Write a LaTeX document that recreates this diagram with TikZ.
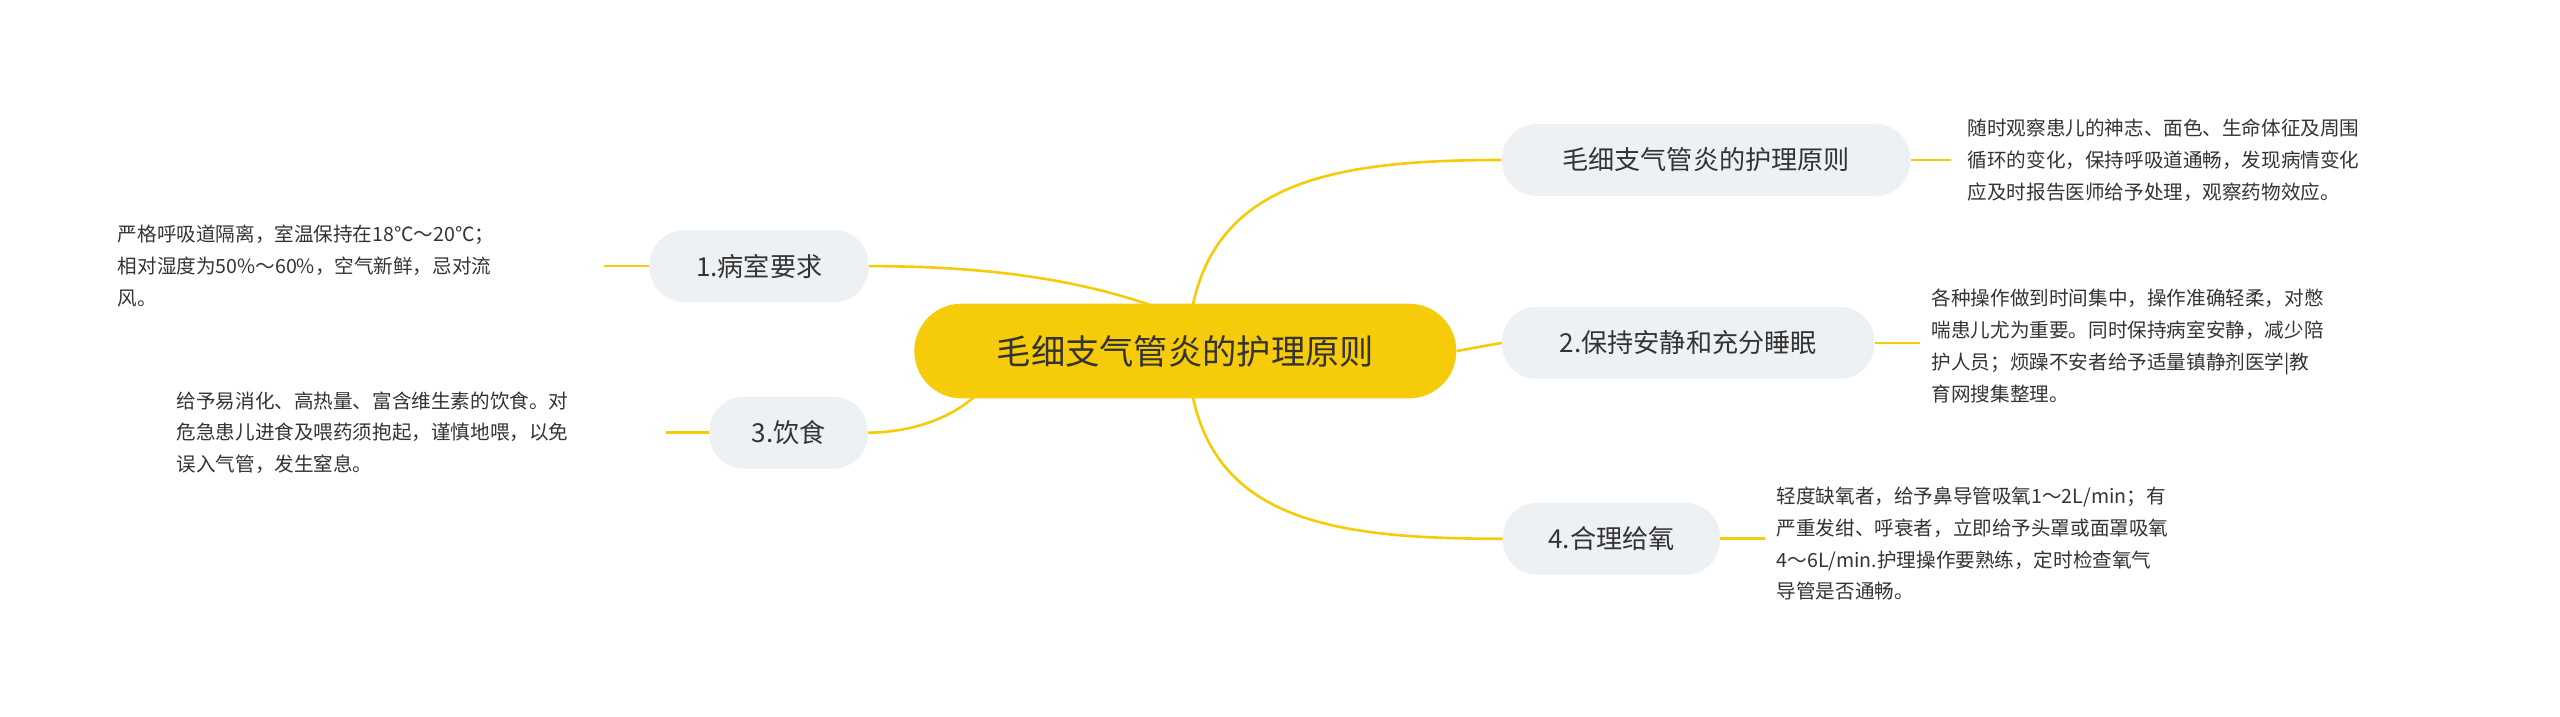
\documentclass[tikz,border=0pt]{standalone}
\usepackage{fontspec}
\setmainfont{Noto Sans CJK SC}
\usetikzlibrary{positioning}
\definecolor{cy}{HTML}{F5CB0A}
\definecolor{cg}{HTML}{EEF1F4}
\definecolor{ct}{HTML}{333333}
\tikzset{
  br/.style={fill=cg,rounded corners=21pt,minimum height=44pt,font=\fontsize{16}{18}\selectfont,text=ct,inner xsep=20pt},
  lf/.style={font=\fontsize{12}{19.5}\selectfont,text=ct,align=left,inner sep=0pt},
  ln/.style={draw=cy,line width=1.6pt}
}
\begin{document}
\begin{tikzpicture}[x=1pt,y=-1pt]
\useasboundingbox (0,0) rectangle (1568,439);
\node[fill=cy,rounded corners=29pt,minimum width=332pt,minimum height=58pt,font=\fontsize{21}{24}\selectfont,text=ct] (c) at (726,215) {毛细支气管炎的护理原则};
\node[br,minimum width=250pt] (r1) at (1045,98) {毛细支气管炎的护理原则};
\node[br,minimum width=228pt] (r2) at (1034,210) {2.保持安静和充分睡眠};
\node[br,minimum width=133pt] (r4) at (987,330) {4.合理给氧};
\node[br,minimum width=134pt] (l1) at (465,163) {1.病室要求};
\node[br,minimum width=97pt] (l3) at (483,265) {3.饮食};
\node[lf,anchor=west] (t1) at (1205,98) {随时观察患儿的神志、面色、生命体征及周围\\循环的变化，保持呼吸道通畅，发现病情变化\\应及时报告医师给予处理，观察药物效应。};
\node[lf,anchor=west] (t2) at (1183,212) {各种操作做到时间集中，操作准确轻柔，对憋\\喘患儿尤为重要。同时保持病室安静，减少陪\\护人员；烦躁不安者给予适量镇静剂医学|教\\育网搜集整理。};
\node[lf,anchor=west] (t4) at (1088,333) {轻度缺氧者，给予鼻导管吸氧1～2L/min；有\\严重发绀、呼衰者，立即给予头罩或面罩吸氧\\4～6L/min.护理操作要熟练，定时检查氧气\\导管是否通畅。};
\node[lf,anchor=west] (t1l) at (72,163) {严格呼吸道隔离，室温保持在18℃～20℃；\\相对湿度为50\%～60\%，空气新鲜，忌对流\\风。};
\node[lf,anchor=west] (t3) at (108,265) {给予易消化、高热量、富含维生素的饮食。对\\危急患儿进食及喂药须抱起，谨慎地喂，以免\\误入气管，发生窒息。};
\coordinate (a1) at (1195,98);
\coordinate (a2) at (1176,210);
\coordinate (a4) at (1081,330);
\coordinate (b1) at (370,163);
\coordinate (b3) at (408,265);
\draw[ln] (730,190) .. controls (745,110) and (820,98) .. (r1.west);
\draw[ln] (c.east) -- (r2.west);
\draw[ln] (730,240) .. controls (745,320) and (820,330) .. (r4.west);
\draw[ln] (705,187) .. controls (650,168) and (590,163) .. (l1.east);
\draw[ln] (600,240) .. controls (580,260) and (550,265) .. (l3.east);
\draw[ln] (r1.east) -- (a1);
\draw[ln] (r2.east) -- (a2);
\draw[ln] (r4.east) -- (a4);
\draw[ln] (l1.west) -- (b1);
\draw[ln] (l3.west) -- (b3);
\end{tikzpicture}
\end{document}
